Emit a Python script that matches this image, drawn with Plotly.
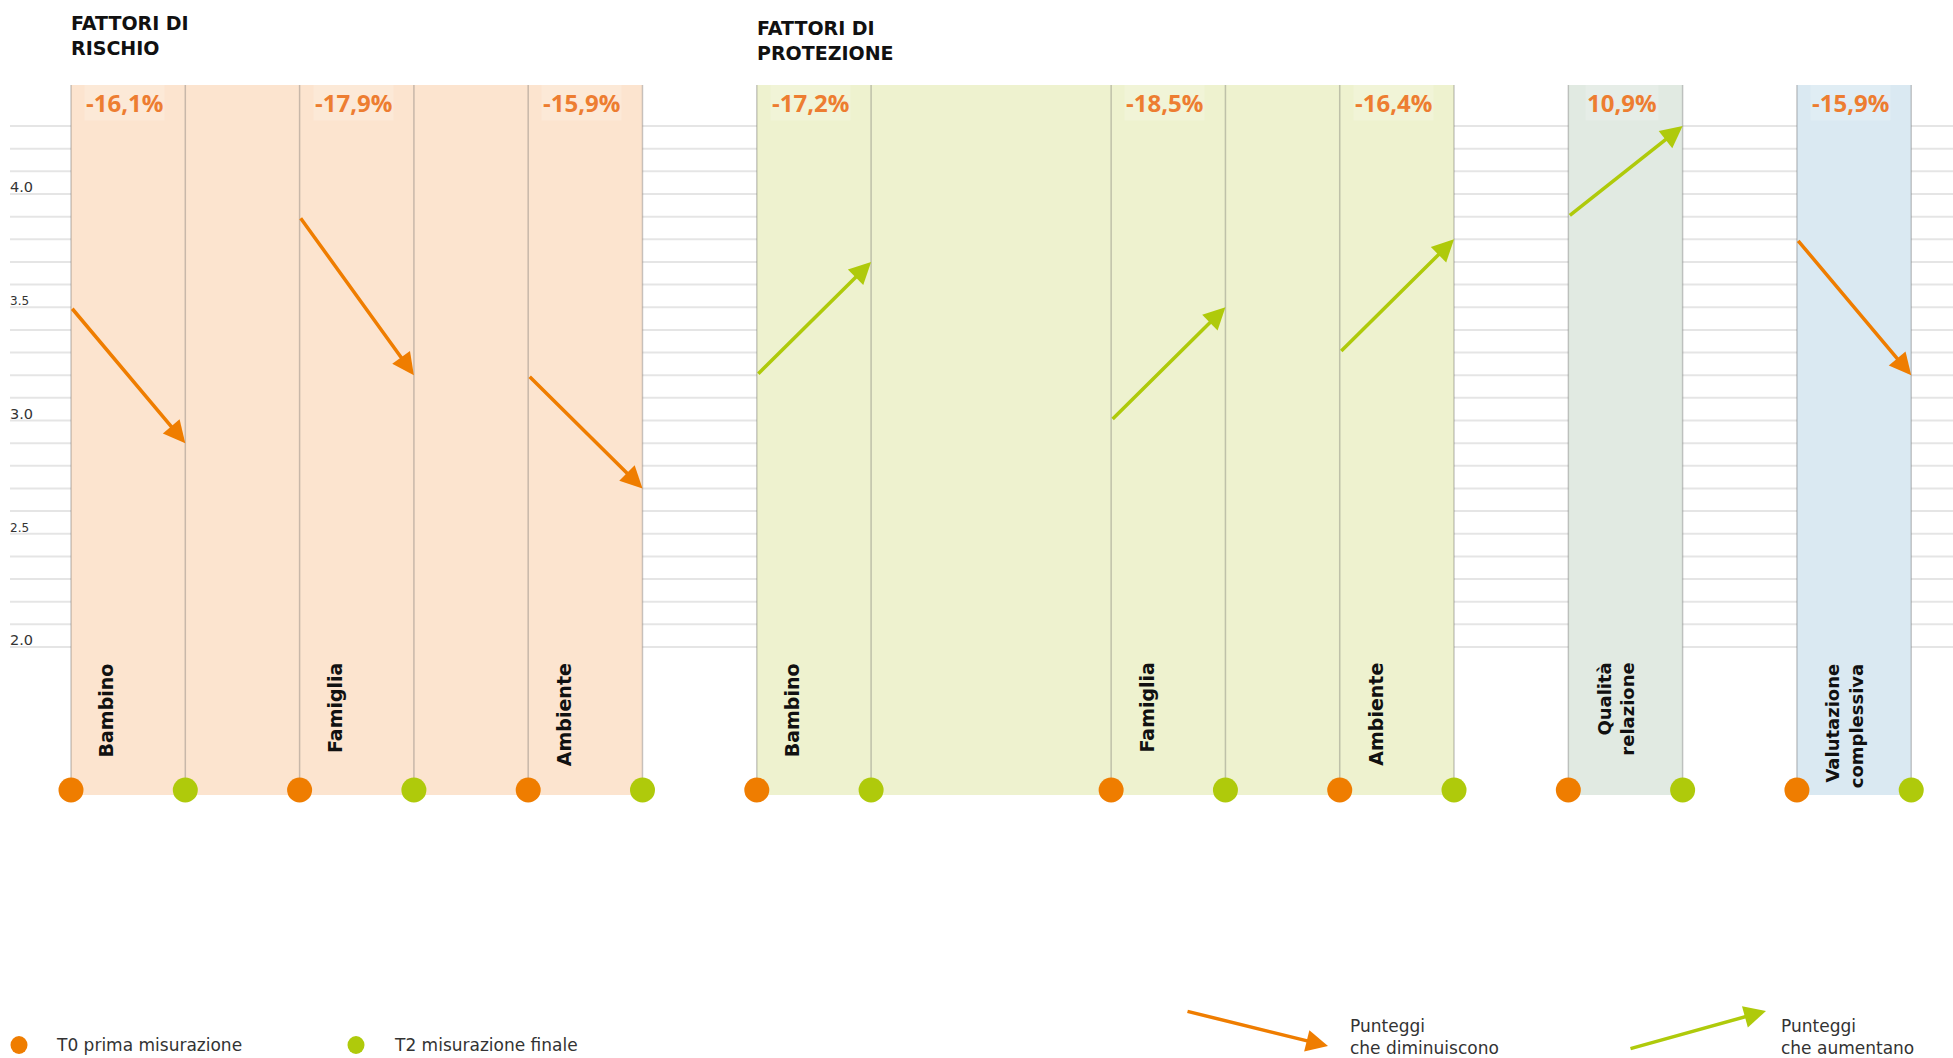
import plotly.graph_objects as go

# ---------------- data ----------------
group_titles = ["FATTORI DI<br>RISCHIO", "FATTORI DI<br>PROTEZIONE"]
categories = ["Bambino", "Famiglia", "Ambiente",
              "Bambino", "Famiglia", "Ambiente",
              "Qualità<br>relazione", "Valutazione<br>complessiva"]
cat_group = [0, 0, 0, 1, 1, 1, 2, 3]
t0_values = [3.5, 3.9, 3.2, 3.2, 3.0, 3.3, 3.9, 3.8]
t2_values = [2.9, 3.2, 2.7, 3.7, 3.5, 3.8, 4.3, 3.2]
pct_labels = ["-16,1%", "-17,9%", "-15,9%", "-17,2%", "-18,5%", "-16,4%", "10,9%", "-15,9%"]
ytick_vals = [2.0, 2.5, 3.0, 3.5, 4.0]
ytick_text = ["2.0", "2.5", "3.0", "3.5", "4.0"]
legend_labels = ["T0 prima misurazione", "T2 misurazione finale"]
arrow_legend = ["Punteggi<br>che diminuiscono", "Punteggi<br>che aumentano"]

# ---------------- layout constants ----------------
W, H = 1953, 1058
ML = 10
slot_t0 = [0, 2, 4, 6, 9.1, 11.1, 13.1, 15.1]   # category slot positions on x axis
slot_t2 = [s + 1 for s in slot_t0]
PX_X = 114.3       # pixels per x unit
X0_PX = 71         # pixel of x=0
Y4_PX = 194        # pixel of y=4.0
PX_Y = 226.5       # pixels per y unit
x_range = [-(X0_PX - ML) / PX_X, (W - X0_PX) / PX_X]
y_range = [4.0 - (H - Y4_PX) / PX_Y, 4.0 + Y4_PX / PX_Y]


def yv(py):  # pixel row -> data value
    return 4.0 - (py - Y4_PX) / PX_Y


def px_paper(px):
    return (px - ML) / (W - ML)


def py_paper(py):
    return 1 - py / H


ORANGE = "#EF7D00"
GREEN = "#AFCA0B"
PCT = "#ED7D31"
band_colors = ["#FCE4CF", "#EEF2CF", "#E1EAE2", "#DAE9F2"]
BAND_TOP = yv(85)
BAND_BOT = yv(795)
BASE = yv(790)

fig = go.Figure()
shapes = []
annotations = []

# bands
for g in range(4):
    idx = [i for i, c in enumerate(cat_group) if c == g]
    shapes.append(dict(type="rect", xref="x", yref="y", layer="below",
                       x0=min(slot_t0[i] for i in idx), x1=max(slot_t2[i] for i in idx),
                       y0=BAND_BOT, y1=BAND_TOP, fillcolor=band_colors[g], line_width=0))

# horizontal gridlines every 0.1 between 2.0 and 4.3
for k in range(20, 44):
    v = k / 10
    shapes.append(dict(type="line", xref="paper", yref="y", layer="below",
                       x0=0, x1=1, y0=v, y1=v,
                       line=dict(color="rgba(0,0,0,0.10)", width=2)))

# vertical lines
for xs in slot_t0 + slot_t2:
    shapes.append(dict(type="line", xref="x", yref="y", layer="below",
                       x0=xs, x1=xs, y0=BASE, y1=BAND_TOP,
                       line=dict(color="rgba(90,90,90,0.32)", width=1.5)))

# dots
fig.add_trace(go.Scatter(x=slot_t0, y=[BASE] * len(slot_t0), mode="markers",
                         marker=dict(color=ORANGE, size=25), name=legend_labels[0],
                         showlegend=False, hoverinfo="skip"))
fig.add_trace(go.Scatter(x=slot_t2, y=[BASE] * len(slot_t2), mode="markers",
                         marker=dict(color=GREEN, size=25), name=legend_labels[1],
                         showlegend=False, hoverinfo="skip"))

# arrows
for i in range(len(categories)):
    col = ORANGE if t2_values[i] < t0_values[i] else GREEN
    annotations.append(dict(x=slot_t2[i], y=t2_values[i], ax=slot_t0[i], ay=t0_values[i],
                            xref="x", yref="y", axref="x", ayref="y", text="",
                            showarrow=True, arrowhead=2, arrowsize=1.25, arrowwidth=3.5,
                            arrowcolor=col, standoff=0))

# percent labels
for i in range(len(categories)):
    annotations.append(dict(x=slot_t0[i] + 0.47, y=yv(102), xref="x", yref="y",
                            text=pct_labels[i], showarrow=False,
                            font=dict(family="Open Sans", size=24, color=PCT, weight="bold"),
                            bgcolor="rgba(255,255,255,0.18)", xanchor="center", yanchor="middle"))

# category labels (rotated)
for i, c in enumerate(categories):
    two = "<br>" in c
    annotations.append(dict(x=slot_t0[i] + (0.41 if two else 0.31), y=yv(661), xref="x", yref="y",
                            text="<b>" + c + "</b>", showarrow=False, textangle=-90,
                            font=dict(family="DejaVu Sans", size=18 if two else 19, color="#111"),
                            xanchor="center", yanchor="top", align="right"))

# group titles
title_x = [slot_t0[0], slot_t0[3]]
title_y = [10, 15]
for g in range(2):
    annotations.append(dict(x=title_x[g], y=py_paper(title_y[g]), xref="x", yref="paper",
                            text="<b>" + group_titles[g] + "</b>", showarrow=False,
                            font=dict(family="DejaVu Sans", size=19, color="#111"),
                            xanchor="left", yanchor="top", align="left", xshift=-2))

# y tick labels
for v, t in zip(ytick_vals, ytick_text):
    annotations.append(dict(x=0, y=v, xref="paper", yref="y", text=t, showarrow=False,
                            font=dict(family="DejaVu Sans", size=14.5 if t.endswith(".0") else 12, color="#333"),
                            xanchor="left", yanchor="bottom", yshift=-3, xshift=-2))

# legend: dots
leg_dot_px = [19, 356]
leg_txt_px = [57, 395]
leg_cols = [ORANGE, GREEN]
for k in range(2):
    shapes.append(dict(type="circle", xref="paper", yref="paper", xsizemode="pixel", ysizemode="pixel",
                       xanchor=px_paper(leg_dot_px[k]), yanchor=py_paper(1045),
                       x0=-8.5, x1=8.5, y0=-9, y1=9, fillcolor=leg_cols[k], line_width=0))
    annotations.append(dict(x=px_paper(leg_txt_px[k]), y=py_paper(1045), xref="paper", yref="paper",
                            text=legend_labels[k], showarrow=False,
                            font=dict(family="DejaVu Sans", size=17, color="#333"),
                            xanchor="left", yanchor="middle", xshift=-3))

# legend: arrows
arr_head = [(1328, 1046), (1766, 1011)]
arr_tail = [(1186, 1011), (1629, 1049)]
arr_txt = [1351, 1782]
for k, col in enumerate([ORANGE, GREEN]):
    hx, hy = arr_head[k]
    tx, ty = arr_tail[k]
    annotations.append(dict(x=px_paper(hx), y=py_paper(hy), xref="paper", yref="paper",
                            ax=tx - hx, ay=ty - hy, axref="pixel", ayref="pixel", text="",
                            showarrow=True, arrowhead=2, arrowsize=1.25, arrowwidth=3.5,
                            arrowcolor=col, standoff=0))
    annotations.append(dict(x=px_paper(arr_txt[k]), y=py_paper(1037), xref="paper", yref="paper",
                            text=arrow_legend[k], showarrow=False, align="left",
                            font=dict(family="DejaVu Sans", size=17, color="#333"),
                            xanchor="left", yanchor="middle", xshift=-3))

fig.update_layout(
    width=W, height=H,
    margin=dict(l=ML, r=0, t=0, b=0),
    paper_bgcolor="white", plot_bgcolor="white",
    xaxis=dict(range=x_range, visible=False, showgrid=False, zeroline=False, fixedrange=True),
    yaxis=dict(range=y_range, visible=False, showgrid=False, zeroline=False, fixedrange=True),
    shapes=shapes, annotations=annotations, showlegend=False,
)

fig.write_html("out.html", config={"displayModeBar": False},
               post_script="document.body.style.margin='0';document.body.style.overflow='hidden';")
